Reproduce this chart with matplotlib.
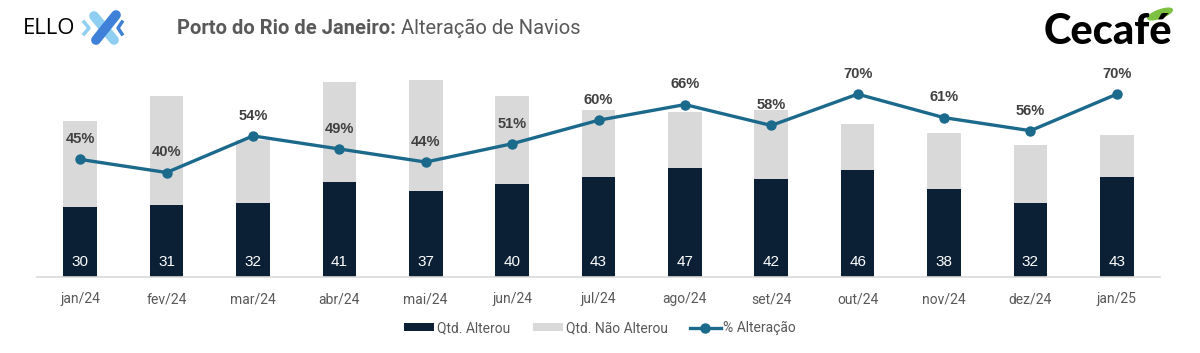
import matplotlib.pyplot as plt
from matplotlib.patches import Ellipse

meses = ["jan/24", "fev/24", "mar/24", "abr/24", "mai/24", "jun/24", "jul/24",
         "ago/24", "set/24", "out/24", "nov/24", "dez/24", "jan/25"]
alterou = [30, 31, 32, 41, 37, 40, 43, 47, 42, 46, 38, 32, 43]
nao_alterou = [37, 47, 27, 43, 48, 38, 29, 24, 30, 20, 24, 25, 18]
pct = [0.45, 0.40, 0.54, 0.49, 0.44, 0.51, 0.60, 0.66, 0.58, 0.70, 0.61, 0.56, 0.70]

navy = "#0B1F35"
cinza = "#D9D9D9"
azul = "#1B6A8C"
texto = "#595959"

W, H = 1200, 353
fig = plt.figure(figsize=(W / 100, H / 100), dpi=100)
ax = fig.add_axes([37 / W, 1 - 277 / H, (1160 - 37) / W, (277 - 68) / H])

x = range(len(meses))
b1 = ax.bar(x, alterou, width=0.39, color=navy, label="Qtd. Alterou", zorder=2)
b2 = ax.bar(x, nao_alterou, width=0.39, bottom=alterou, color=cinza,
            label="Qtd. Não Alterou", zorder=2)
ax.set_xlim(-0.5, len(meses) - 0.5)
ax.set_ylim(0, 90)
ax.set_yticks([])
ax.set_xticks(list(x))
ax.set_xticklabels(meses, fontfamily="Roboto", fontsize=10, color=texto)
ax.tick_params(axis="x", length=0, pad=11)
for s in ["top", "right", "left"]:
    ax.spines[s].set_visible(False)
ax.spines["bottom"].set_color(cinza)
ax.spines["bottom"].set_linewidth(1.2)

for i, v in enumerate(alterou):
    ax.annotate(str(v), (i, 0), xytext=(0, 11), textcoords="offset points",
                ha="center", va="center", color="white", fontsize=11,
                fontfamily="Liberation Sans", zorder=4)

ax2 = ax.twinx()
ax2.set_ylim(0, 0.8)
ax2.axis("off")
ln, = ax2.plot(list(x), pct, color=azul, lw=2.4, marker="o", ms=6.5,
               label="% Alteração", zorder=3)
for i, p in enumerate(pct):
    ax2.annotate(f"{round(p * 100)}%", (i, p), xytext=(0, 14.5),
                 textcoords="offset points", ha="center", va="center",
                 color="#404040", fontsize=10.5, fontweight="bold",
                 fontfamily="Liberation Sans")

fig.legend([b1, b2, ln], ["Qtd. Alterou", "Qtd. Não Alterou", "% Alteração"],
           loc="center", bbox_to_anchor=(0.5, 1 - 328 / H), ncol=3,
           frameon=False, handlelength=2.2, handleheight=0.5,
           handletextpad=0.2, columnspacing=1.6,
           prop={"family": "Roboto", "size": 10}, labelcolor=texto)

# cabeçalho: título e logos
top = fig.add_axes([0, 0, 1, 1], zorder=-1)
top.set_xlim(0, W)
top.set_ylim(H, 0)
top.axis("off")

t1 = top.text(177, 28, "Porto do Rio de Janeiro:", fontfamily="Roboto",
              fontsize=14.5, fontweight="bold", color=texto, va="center")
top.annotate(" Alteração de Navios", xy=(1, 0.5), xycoords=t1, va="center",
             fontfamily="Roboto", fontsize=14.5, color=texto)

top.text(23, 29, "ELLO", fontfamily="Open Sans", fontsize=16, color="black",
         va="center")
top.plot([94, 114], [16, 40], color="#8FD0F2", lw=7, solid_capstyle="round")
top.plot([116, 96], [15, 40], color="#3F80D8", lw=7, solid_capstyle="round")
top.plot([84, 89, 84], [22, 28, 34], color="#8FD0F2", lw=2.5)
top.plot([122, 118, 122], [22, 28, 34], color="#3F80D8", lw=2.5)

top.text(1108, 32, "Cecafé", fontfamily="Lato", fontsize=30, fontweight="black",
         color="black", ha="center", va="center")
top.add_patch(Ellipse((1160, 14), 26, 8, angle=-20, color="#7DC142"))

fig.savefig("out.png", dpi=100)
